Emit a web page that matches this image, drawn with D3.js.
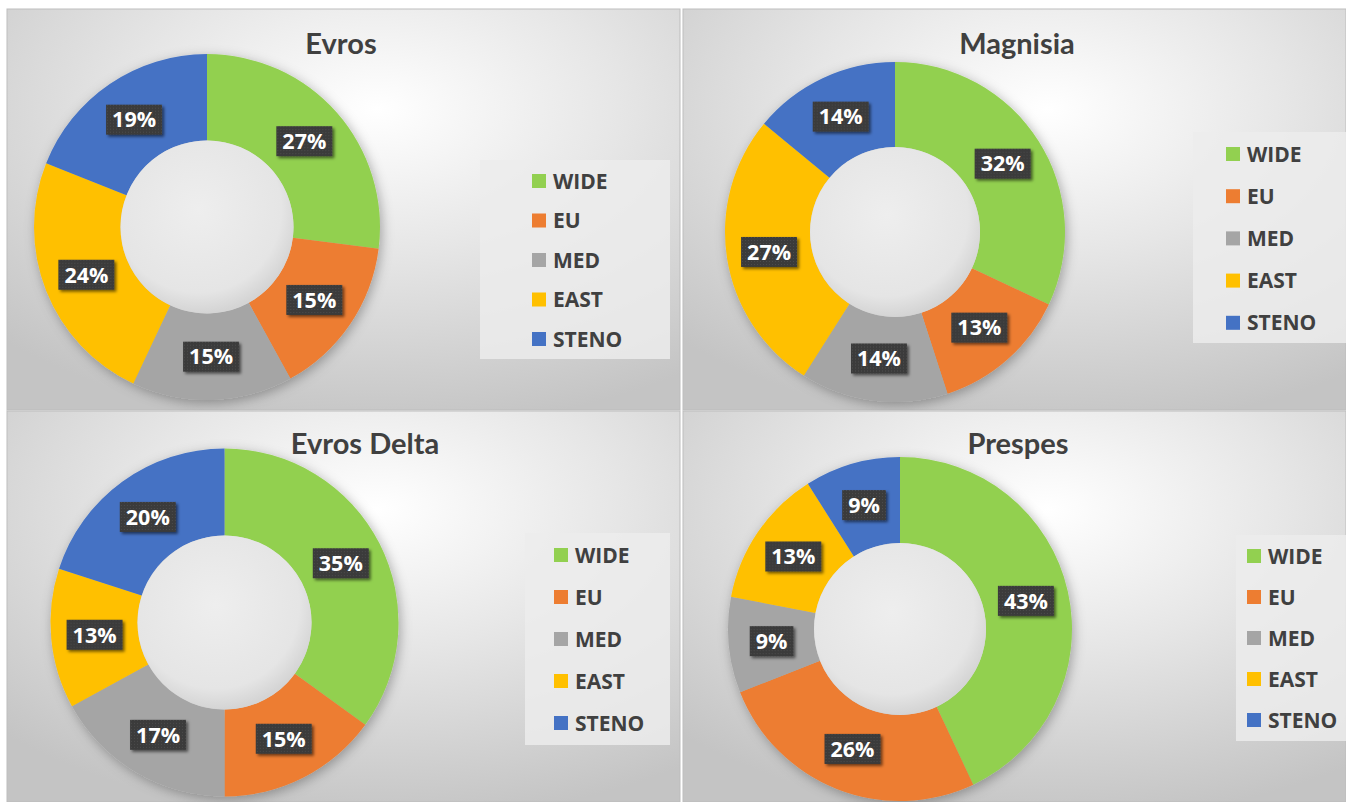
<!DOCTYPE html>
<html>
<head>
<meta charset="utf-8">
<script src="https://cdn.jsdelivr.net/npm/d3@7/dist/d3.min.js"></script>
<style>
  body { margin: 0; background: #fff; }
  svg { display: block; }
</style>
</head>
<body>
<svg id="chart" width="1346" height="802"></svg>
<script>
// data
const categories = ['WIDE', 'EU', 'MED', 'EAST', 'STENO'];
const titles = ['Evros', 'Magnisia', 'Evros Delta', 'Prespes'];
const evros = [27, 15, 15, 24, 19];
const magnisia = [32, 13, 14, 27, 14];
const evrosDelta = [35, 15, 17, 13, 20];
const prespes = [43, 26, 9, 13, 9];
const seriesList = [evros, magnisia, evrosDelta, prespes];

const colors = ['#92D050', '#ED7D31', '#A5A5A5', '#FFC000', '#4472C4'];
const titleFont = 'Lato, "Open Sans", sans-serif';
const font = '"Open Sans", Lato, sans-serif';

// panel layout (positions only)
const layouts = [
  {x: 7, y: 9, w: 673, h: 401, cx: 207, cy: 227, r: 173, tx: 341, ty: 54,
    lg: {x: 480, y: 160, w: 190, h: 199, sx: 532, tx: 553, row0: 181, step: 39.5}},
  {x: 683, y: 9, w: 663, h: 401, cx: 895, cy: 232, r: 170, tx: 1017, ty: 54,
    lg: {x: 1193, y: 132, w: 153, h: 211, sx: 1226, tx: 1247, row0: 154, step: 42.2}},
  {x: 7, y: 411, w: 673, h: 391, cx: 224.5, cy: 622.5, r: 174, tx: 365, ty: 454,
    lg: {x: 525, y: 533, w: 145, h: 212, sx: 554, tx: 575, row0: 555, step: 42}},
  {x: 683, y: 411, w: 663, h: 391, cx: 900, cy: 629, r: 172, tx: 1018, ty: 454,
    lg: {x: 1236, y: 535, w: 110, h: 206, sx: 1247, tx: 1268, row0: 556, step: 41}}
];

const svg = d3.select('#chart');
const defs = svg.append('defs');

const bg = defs.append('radialGradient')
  .attr('id', 'panelBg')
  .attr('cx', 0.55).attr('cy', 0.25).attr('r', 0.8)
  .attr('fx', 0.55).attr('fy', 0.25);
bg.append('stop').attr('offset', '0%').attr('stop-color', '#ffffff');
bg.append('stop').attr('offset', '45%').attr('stop-color', '#e6e6e6');
bg.append('stop').attr('offset', '100%').attr('stop-color', '#c4c4c4');

const hole = defs.append('radialGradient')
  .attr('id', 'holeBg')
  .attr('cx', 0.45).attr('cy', 0.4).attr('r', 0.6);
hole.append('stop').attr('offset', '0%').attr('stop-color', '#eeeeee');
hole.append('stop').attr('offset', '80%').attr('stop-color', '#e5e5e5');
hole.append('stop').attr('offset', '100%').attr('stop-color', '#d4d4d4');

const ringShadow = defs.append('filter').attr('id', 'ringShadow')
  .attr('x', '-20%').attr('y', '-20%').attr('width', '140%').attr('height', '140%');
ringShadow.append('feDropShadow')
  .attr('dx', 2).attr('dy', 3).attr('stdDeviation', 6)
  .attr('flood-color', '#000').attr('flood-opacity', 0.3);

const boxShadow = defs.append('filter').attr('id', 'boxShadow')
  .attr('x', '-30%').attr('y', '-30%').attr('width', '160%').attr('height', '160%');
boxShadow.append('feDropShadow')
  .attr('dx', 2).attr('dy', 2).attr('stdDeviation', 1.8)
  .attr('flood-color', '#000').attr('flood-opacity', 0.55);

const dots = defs.append('pattern').attr('id', 'dots')
  .attr('width', 3).attr('height', 3).attr('patternUnits', 'userSpaceOnUse');
dots.append('rect').attr('width', 3).attr('height', 3).attr('fill', '#3a3a3a');
dots.append('rect').attr('width', 1).attr('height', 1).attr('fill', '#4e4e4e');

const pie = d3.pie().sort(null).value(d => d);

seriesList.forEach((values, i) => {
  const L = layouts[i];
  const g = svg.append('g');

  g.append('rect')
    .attr('x', L.x).attr('y', L.y)
    .attr('width', L.w).attr('height', L.h)
    .attr('fill', 'url(#panelBg)')
    .attr('stroke', '#bdbdbd').attr('stroke-width', 1);

  g.append('text')
    .attr('x', L.tx).attr('y', L.ty)
    .attr('text-anchor', 'middle')
    .attr('font-family', titleFont).attr('font-weight', 700)
    .attr('font-size', 29).attr('fill', '#404040')
    .text(titles[i]);

  const arc = d3.arc().innerRadius(L.r * 0.5).outerRadius(L.r);
  const arcs = pie(values);

  const donut = g.append('g')
    .attr('transform', 'translate(' + L.cx + ',' + L.cy + ')');

  donut.append('g')
    .attr('filter', 'url(#ringShadow)')
    .selectAll('path')
    .data(arcs)
    .join('path')
    .attr('d', arc)
    .attr('fill', (d, j) => colors[j]);

  donut.append('circle')
    .attr('r', L.r * 0.5)
    .attr('fill', 'url(#holeBg)');

  const labels = donut.selectAll('g.lbl')
    .data(arcs)
    .join('g')
    .attr('class', 'lbl')
    .attr('transform', d => 'translate(' + arc.centroid(d) + ')');

  const rects = labels.append('rect')
    .attr('fill', 'url(#dots)')
    .attr('filter', 'url(#boxShadow)');

  const texts = labels.append('text')
    .attr('text-anchor', 'middle')
    .attr('dy', '0.36em')
    .attr('font-family', font).attr('font-weight', 700)
    .attr('font-size', 21.5).attr('fill', '#fff')
    .text(d => d.data + '%');

  texts.each(function (d, j) {
    const w = this.getComputedTextLength() + 12;
    d3.select(rects.nodes()[j])
      .attr('x', -w / 2).attr('y', -15)
      .attr('width', w).attr('height', 30);
  });

  // legend
  const lg = L.lg;
  g.append('rect')
    .attr('x', lg.x).attr('y', lg.y)
    .attr('width', lg.w).attr('height', lg.h)
    .attr('fill', '#ececec').attr('fill-opacity', 0.85);

  const rows = g.selectAll('g.row')
    .data(categories)
    .join('g')
    .attr('class', 'row')
    .attr('transform', (c, j) => 'translate(0,' + (lg.row0 + j * lg.step) + ')');

  rows.append('rect')
    .attr('x', lg.sx).attr('y', -7)
    .attr('width', 14).attr('height', 14)
    .attr('fill', (c, j) => colors[j]);

  rows.append('text')
    .attr('x', lg.tx).attr('dy', '0.36em')
    .attr('font-family', font).attr('font-weight', 700)
    .attr('font-size', 21).attr('fill', '#404040')
    .text(c => c);
});
</script>
</body>
</html>
